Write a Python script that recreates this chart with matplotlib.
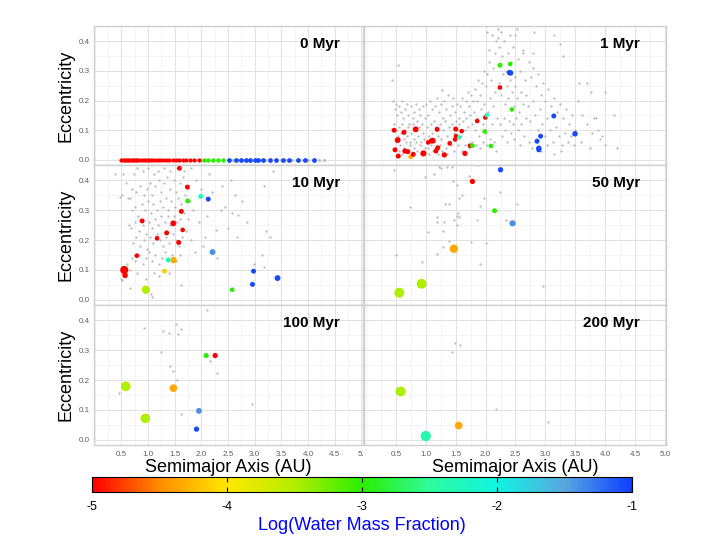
import numpy as np
import matplotlib
matplotlib.use('Agg')
import matplotlib.pyplot as plt
from matplotlib.colors import LinearSegmentedColormap, Normalize
from matplotlib.cm import ScalarMappable
from matplotlib.ticker import MultipleLocator

plt.rcParams['font.family'] = ['Liberation Sans', 'DejaVu Sans']
plt.rcParams['axes.unicode_minus'] = False

# ---------------- data ----------------
panel_titles = ['0 Myr', '1 Myr', '10 Myr', '50 Myr', '100 Myr', '200 Myr']
x_ticks = [0.5, 1.0, 1.5, 2.0, 2.5, 3.0, 3.5, 4.0, 4.5, 5.0]
x_labels_left = ['0.5', '1.0', '1.5', '2.0', '2.5', '3.0', '3.5', '4.0', '4.5', '5.']
x_labels_right = ['0.5', '1.0', '1.5', '2.0', '2.5', '3.0', '3.5', '4.0', '4.5', '5.0']
y_ticks = [0.0, 0.1, 0.2, 0.3, 0.4]
y_labels = ['0.0', '0.1', '0.2', '0.3', '0.4']
cbar_ticks = [-5, -4, -3, -2, -1]
cbar_labels = ['-5', '-4', '-3', '-2', '-1']
cmap_values = [-5.0, -4.5, -4.0, -3.5, -3.0, -2.5, -2.0, -1.5, -1.0]
cmap_colors = ['#FF0000', '#FF8E00', '#FFE800', '#B2EE00', '#2BEE00',
               '#30FA9C', '#10F4E0', '#58A8DE', '#0F3FFF']

# 0 Myr: embryos all on circular orbits
red0_a = [0.50, 0.53, 0.56, 0.59, 0.62, 0.65, 0.68, 0.71, 0.74, 0.77, 0.80, 0.84,
          0.88, 0.92, 0.96, 1.00, 1.04, 1.08, 1.13, 1.18, 1.23, 1.28, 1.34, 1.40,
          1.46, 1.52, 1.58, 1.65, 1.72, 1.79, 1.87, 1.95]
green0_a = [2.05, 2.13, 2.22, 2.31, 2.41]
blue0_a = [2.52, 2.65, 2.74, 2.83, 2.92, 3.00, 3.06, 3.16, 3.29, 3.40, 3.53,
           3.65, 3.81, 3.95, 4.11]
grey0_a = [0.5, 0.6, 0.7, 0.8, 0.9, 1.0, 1.1, 1.2, 1.3, 1.4, 1.5, 1.6, 1.7, 1.8,
           1.9, 2.0, 2.1, 2.2, 2.3, 2.4, 2.5, 2.6, 2.7, 2.8, 2.9, 3.0, 3.1, 3.2,
           3.3, 3.4, 3.5, 3.6, 3.7, 3.8, 3.9, 4.0, 4.1, 4.2, 4.3]
mass0_red, mass0_green, mass0_blue = 0.04, 0.05, 0.065

# embryos: (a [AU], e, log water mass fraction, mass [rough])
emb_1 = [(0.47, 0.100, -5, 0.08), (0.53, 0.067, -5, 0.15), (0.635, 0.093, -5, 0.08),
         (0.83, 0.103, -5, 0.15), (0.485, 0.034, -5, 0.08), (0.54, 0.013, -5, 0.08),
         (0.652, 0.030, -5, 0.10), (0.70, 0.028, -5, 0.08), (0.75, 0.011, -4.35, 0.08),
         (0.79, 0.019, -5, 0.08), (0.96, 0.022, -5, 0.18), (1.19, 0.103, -5, 0.08),
         (1.09, 0.064, -5, 0.08), (1.115, 0.065, -5, 0.15), (1.04, 0.059, -5, 0.06),
         (1.20, 0.041, -5, 0.08), (1.17, 0.030, -5, 0.08), (1.31, 0.017, -5, 0.10),
         (1.40, 0.056, -5, 0.06), (1.50, 0.104, -5, 0.08), (1.60, 0.097, -5, 0.06),
         (1.505, 0.080, -5, 0.06), (1.49, 0.069, -5, 0.06), (1.56, 0.076, -2.3, 0.05),
         (1.655, 0.022, -5, 0.10), (1.74, 0.048, -5, 0.06), (1.78, 0.048, -3.0, 0.06),
         (1.86, 0.131, -5, 0.06), (1.995, 0.143, -5, 0.06), (2.02, 0.151, -2.3, 0.05),
         (1.985, 0.096, -3.0, 0.06), (2.09, 0.047, -3.0, 0.06), (2.24, 0.244, -5, 0.06),
         (2.24, 0.319, -3.0, 0.08), (2.41, 0.323, -3.0, 0.06), (2.40, 0.294, -1.05, 0.12),
         (2.42, 0.293, -1.05, 0.10), (2.44, 0.170, -3.0, 0.06), (3.14, 0.148, -1.05, 0.08),
         (3.495, 0.088, -1.05, 0.12), (2.92, 0.080, -1.05, 0.08), (2.86, 0.063, -1.05, 0.08),
         (2.89, 0.039, -1.05, 0.12), (2.89, 0.034, -1.05, 0.08)]
emb_10 = [(1.59, 0.440, -5, 0.07), (1.74, 0.377, -5, 0.08), (1.99, 0.346, -2.3, 0.08),
          (1.745, 0.331, -3.0, 0.08), (2.13, 0.337, -1.05, 0.08), (1.625, 0.296, -5, 0.08),
          (0.89, 0.264, -5, 0.08), (1.475, 0.256, -5, 0.15), (1.65, 0.234, -5, 0.06),
          (1.35, 0.224, -5, 0.08), (1.17, 0.206, -5, 0.06), (1.575, 0.192, -5, 0.08),
          (0.79, 0.148, -5, 0.06), (2.21, 0.160, -1.4, 0.15), (1.38, 0.134, -2.3, 0.08),
          (1.48, 0.133, -4.35, 0.2), (1.31, 0.096, -4.15, 0.07), (0.57, 0.082, -5, 0.12),
          (0.555, 0.100, -5, 0.5), (0.96, 0.034, -3.5, 0.5), (2.58, 0.034, -3.0, 0.06),
          (2.98, 0.096, -1.05, 0.08), (2.96, 0.052, -1.05, 0.08), (3.43, 0.073, -1.05, 0.15)]
emb_50 = [(2.25, 0.435, -1.05, 0.1), (1.78, 0.396, -5, 0.1), (2.15, 0.298, -3.0, 0.08),
          (2.45, 0.256, -1.4, 0.18), (1.47, 0.171, -4.35, 0.55), (0.93, 0.054, -3.5, 0.95),
          (0.557, 0.024, -3.5, 1.0)]
emb_100 = [(0.583, 0.179, -3.5, 0.85), (0.95, 0.072, -3.5, 0.85), (1.476, 0.173, -4.35, 0.4),
           (2.09, 0.282, -3.0, 0.1), (2.26, 0.282, -5, 0.1), (1.956, 0.097, -1.4, 0.15),
           (1.91, 0.036, -1.05, 0.1)]
emb_200 = [(0.58, 0.162, -3.5, 1.0), (1.00, 0.013, -2.35, 1.1), (1.55, 0.048, -4.35, 0.4)]

# planetesimals (grey): (a [AU], e)
grey_1 = [
    (0.44, 0.27), (0.54, 0.32), (0.46, 0.20), (0.48, 0.17), (0.50, 0.19), (0.52, 0.15),
    (0.55, 0.18), (0.58, 0.16), (0.60, 0.20), (0.62, 0.14), (0.65, 0.17), (0.68, 0.19),
    (0.70, 0.15), (0.72, 0.12), (0.75, 0.18), (0.78, 0.14), (0.80, 0.16), (0.83, 0.19),
    (0.86, 0.13), (0.88, 0.17), (0.90, 0.15), (0.93, 0.12), (0.96, 0.18), (0.98, 0.14),
    (0.47, 0.12), (0.50, 0.10), (0.53, 0.08), (0.56, 0.11), (0.58, 0.09), (0.61, 0.12),
    (0.63, 0.07), (0.66, 0.10), (0.69, 0.08), (0.71, 0.11), (0.74, 0.06), (0.76, 0.09),
    (0.79, 0.12), (0.81, 0.07), (0.84, 0.10), (0.87, 0.08), (0.89, 0.11), (0.92, 0.06),
    (0.95, 0.09), (0.97, 0.07), (0.48, 0.04), (0.51, 0.06), (0.55, 0.03), (0.57, 0.05),
    (0.60, 0.02), (0.64, 0.04), (0.67, 0.06), (0.70, 0.03), (0.73, 0.05), (0.77, 0.02),
    (0.80, 0.04), (0.83, 0.06), (0.86, 0.03), (0.90, 0.05), (0.94, 0.02), (0.99, 0.04),
    (1.01, 0.19), (1.04, 0.15), (1.07, 0.20), (1.10, 0.17), (1.13, 0.13), (1.16, 0.18),
    (1.19, 0.21), (1.22, 0.16), (1.25, 0.19), (1.28, 0.14), (1.31, 0.20), (1.34, 0.17),
    (1.37, 0.22), (1.40, 0.15), (1.43, 0.18), (1.46, 0.21), (1.49, 0.16), (1.52, 0.19),
    (1.55, 0.14), (1.58, 0.18), (1.61, 0.21), (1.64, 0.16), (1.67, 0.20), (1.70, 0.23),
    (1.73, 0.18), (1.76, 0.22), (1.79, 0.20), (1.27, 0.235),
    (1.02, 0.11), (1.05, 0.08), (1.08, 0.12), (1.11, 0.09), (1.14, 0.06), (1.17, 0.11),
    (1.20, 0.08), (1.23, 0.12), (1.26, 0.07), (1.29, 0.10), (1.32, 0.13), (1.35, 0.08),
    (1.38, 0.11), (1.41, 0.06), (1.44, 0.12), (1.47, 0.09), (1.50, 0.13), (1.53, 0.10),
    (1.56, 0.12), (1.59, 0.08), (1.62, 0.13), (1.65, 0.10), (1.68, 0.14), (1.71, 0.11),
    (1.74, 0.15), (1.77, 0.12), (1.80, 0.16),
    (1.03, 0.04), (1.06, 0.02), (1.09, 0.05), (1.12, 0.03), (1.15, 0.04), (1.21, 0.02),
    (1.24, 0.05), (1.27, 0.03), (1.33, 0.04), (1.36, 0.02), (1.42, 0.05), (1.48, 0.03),
    (1.54, 0.05), (1.60, 0.03), (1.66, 0.05), (1.72, 0.04), (1.78, 0.06),
    (1.82, 0.24), (1.85, 0.20), (1.88, 0.27), (1.91, 0.22), (1.94, 0.26), (1.97, 0.30),
    (2.00, 0.25), (2.03, 0.29), (2.06, 0.33), (2.09, 0.27), (2.12, 0.31), (2.15, 0.36),
    (2.18, 0.40), (2.20, 0.44), (2.05, 0.37), (2.10, 0.42), (2.02, 0.43), (2.21, 0.41),
    (1.83, 0.10), (1.86, 0.14), (1.89, 0.08), (1.92, 0.17), (1.95, 0.12), (1.98, 0.19),
    (2.01, 0.09), (2.04, 0.16), (2.07, 0.21), (2.10, 0.12), (2.13, 0.18), (2.16, 0.23),
    (2.19, 0.14), (1.84, 0.05), (1.90, 0.04), (1.96, 0.06), (2.02, 0.05), (2.08, 0.07),
    (2.14, 0.06), (2.18, 0.03),
    (2.22, 0.38), (2.25, 0.43), (2.28, 0.35), (2.31, 0.40), (2.34, 0.30), (2.37, 0.36),
    (2.40, 0.42), (2.43, 0.33), (2.46, 0.38), (2.49, 0.28), (2.52, 0.44), (2.55, 0.34),
    (2.58, 0.30), (2.62, 0.37), (2.66, 0.27), (2.49, 0.42), (2.63, 0.36),
    (2.23, 0.26), (2.26, 0.22), (2.29, 0.29), (2.32, 0.19), (2.35, 0.25), (2.38, 0.21),
    (2.41, 0.27), (2.44, 0.23), (2.47, 0.18), (2.50, 0.25), (2.53, 0.21), (2.56, 0.16),
    (2.59, 0.23), (2.63, 0.19), (2.67, 0.22),
    (2.24, 0.12), (2.27, 0.08), (2.30, 0.14), (2.33, 0.10), (2.36, 0.06), (2.39, 0.13),
    (2.42, 0.09), (2.45, 0.12), (2.48, 0.07), (2.51, 0.14), (2.54, 0.10), (2.57, 0.05),
    (2.60, 0.12), (2.64, 0.08), (2.68, 0.14),
    (2.72, 0.33), (2.76, 0.28), (2.80, 0.31), (2.84, 0.25), (2.88, 0.29), (2.92, 0.22),
    (2.96, 0.26), (3.00, 0.20), (3.05, 0.24), (3.10, 0.18), (3.15, 0.21), (3.20, 0.16),
    (3.25, 0.19), (3.30, 0.14), (3.35, 0.17), (3.40, 0.12), (3.45, 0.15), (3.50, 0.10),
    (2.71, 0.18), (2.75, 0.13), (2.79, 0.20), (2.83, 0.15), (2.87, 0.10), (2.91, 0.17),
    (2.95, 0.12), (2.99, 0.08), (3.03, 0.14), (3.08, 0.10), (3.12, 0.06), (3.18, 0.11),
    (3.22, 0.08), (3.28, 0.05), (3.33, 0.09), (3.38, 0.06), (3.43, 0.08), (3.48, 0.05),
    (2.73, 0.06), (2.78, 0.04), (2.85, 0.07), (2.93, 0.03), (3.02, 0.05), (3.14, 0.02),
    (3.26, 0.03), (3.14, 0.42), (3.24, 0.39), (3.30, 0.35), (2.81, 0.43), (2.80, 0.36),
    (3.56, 0.26), (3.76, 0.23), (3.99, 0.23), (3.81, 0.14), (3.95, 0.08), (4.20, 0.04),
    (3.55, 0.20), (3.62, 0.15), (3.70, 0.12), (3.78, 0.09), (3.85, 0.14), (3.92, 0.07),
    (4.00, 0.05), (3.60, 0.06), (3.75, 0.04), (3.88, 0.10), (4.15, 0.15), (3.70, 0.26)]
grey_10 = [
    (0.38, 0.42), (0.54, 0.42), (0.59, 0.39), (0.73, 0.42), (0.80, 0.44), (0.90, 0.43),
    (1.00, 0.44), (1.11, 0.42), (1.18, 0.43), (1.30, 0.44), (1.42, 0.43), (1.55, 0.44),
    (1.68, 0.43), (1.80, 0.44), (0.48, 0.345), (0.52, 0.35),
    (0.62, 0.34), (0.67, 0.34), (0.70, 0.37), (0.78, 0.36), (0.85, 0.38), (0.92, 0.35),
    (0.98, 0.37), (1.03, 0.39), (1.08, 0.35), (1.14, 0.38), (1.20, 0.40), (1.25, 0.36),
    (1.30, 0.39), (1.36, 0.41), (1.42, 0.37), (1.48, 0.40), (1.53, 0.36), (1.60, 0.39),
    (1.66, 0.41), (0.70, 0.30), (0.76, 0.31), (0.82, 0.28), (0.88, 0.32), (0.94, 0.30),
    (1.00, 0.33), (1.05, 0.29), (1.10, 0.32), (1.16, 0.30), (1.22, 0.33), (1.28, 0.31),
    (1.33, 0.34), (1.38, 0.30), (1.44, 0.33), (1.50, 0.31), (1.56, 0.34), (1.62, 0.32),
    (1.70, 0.35), (1.78, 0.33), (0.64, 0.25), (0.68, 0.24), (0.75, 0.26), (0.83, 0.23),
    (0.90, 0.25), (0.96, 0.22), (1.02, 0.26), (1.07, 0.24), (1.13, 0.27), (1.19, 0.25),
    (1.25, 0.28), (1.31, 0.26), (1.37, 0.28), (1.42, 0.25), (1.48, 0.28), (1.54, 0.26),
    (1.60, 0.27), (1.68, 0.29), (1.75, 0.27), (1.85, 0.30), (0.72, 0.19), (0.78, 0.21),
    (0.85, 0.18), (0.92, 0.20), (0.98, 0.17), (1.04, 0.21), (1.10, 0.19), (1.16, 0.22),
    (1.22, 0.20), (1.28, 0.18), (1.34, 0.21), (1.40, 0.19), (1.46, 0.22), (1.52, 0.20),
    (1.58, 0.18), (1.64, 0.21), (1.72, 0.23), (1.80, 0.20), (0.70, 0.14), (0.76, 0.13),
    (0.84, 0.15), (0.90, 0.12), (0.96, 0.14), (1.02, 0.16), (1.08, 0.13), (1.14, 0.15),
    (1.20, 0.12), (1.26, 0.14), (1.32, 0.16), (1.38, 0.13), (1.45, 0.15), (1.52, 0.13),
    (1.60, 0.15), (0.50, 0.07), (0.59, 0.08), (0.67, 0.04), (0.97, 0.07), (1.11, 0.09),
    (1.06, 0.02), (1.08, 0.01), (1.62, 0.05), (0.60, 0.12), (0.66, 0.10), (0.80, 0.09),
    (1.20, 0.08), (1.40, 0.09), (0.51, 0.067),
    (2.15, 0.42), (2.38, 0.38), (2.63, 0.35), (2.77, 0.33), (2.37, 0.30), (2.45, 0.31),
    (2.58, 0.29), (2.68, 0.285), (2.67, 0.21), (2.27, 0.235), (2.07, 0.21), (2.03, 0.18),
    (2.98, 0.12), (3.13, 0.15), (3.17, 0.11), (3.21, 0.23), (3.29, 0.21), (3.34, 0.43),
    (3.18, 0.38), (1.90, 0.40), (2.00, 0.37), (1.95, 0.26), (2.10, 0.28), (1.88, 0.16),
    (2.20, 0.36), (2.50, 0.24), (2.30, 0.14), (2.85, 0.26), (2.55, 0.40)]
grey_50 = [
    (0.474, 0.435), (0.99, 0.411), (1.14, 0.420), (1.22, 0.445), (1.25, 0.441),
    (1.36, 0.445), (1.44, 0.445), (1.88, 0.450), (1.73, 0.414), (1.46, 0.397),
    (1.52, 0.385), (1.60, 0.352), (1.55, 0.341), (1.97, 0.341), (2.24, 0.361),
    (2.53, 0.322), (1.91, 0.313), (0.73, 0.310), (1.32, 0.319), (1.38, 0.321),
    (1.54, 0.291), (1.53, 0.280), (1.56, 0.278), (1.19, 0.276), (1.19, 0.259),
    (1.30, 0.262), (1.48, 0.266), (1.53, 0.249), (1.85, 0.268), (2.34, 0.268),
    (1.04, 0.227), (1.28, 0.229), (1.39, 0.197), (1.75, 0.195), (2.01, 0.191),
    (1.28, 0.177), (0.50, 0.149), (1.19, 0.155), (0.94, 0.127), (1.90, 0.121),
    (2.96, 0.048)]
grey_100 = [
    (2.10, 0.434), (0.92, 0.373), (1.28, 0.365), (1.39, 0.356), (1.52, 0.387),
    (1.62, 0.371), (1.56, 0.354), (1.24, 0.295), (1.42, 0.246), (1.47, 0.232),
    (1.55, 0.201), (2.16, 0.264), (2.29, 0.225), (0.46, 0.157), (2.96, 0.120),
    (1.62, 0.088)]
grey_200 = [(1.49, 0.324), (1.57, 0.316), (1.43, 0.293), (2.18, 0.104), (3.05, 0.059)]

# ---------------- figure ----------------
W, H = 715, 553
fig = plt.figure(figsize=(W / 100, H / 100), dpi=100)
fig.patch.set_facecolor('white')

cmap = LinearSegmentedColormap.from_list(
    'water', [((v - cmap_values[0]) / (cmap_values[-1] - cmap_values[0]), c)
              for v, c in zip(cmap_values, cmap_colors)])
norm = Normalize(vmin=-5, vmax=-1)


def diam_to_s(d_px):
    return (0.72 * d_px) ** 2


def mass_to_s(m):
    return diam_to_s(1.2 + 8.8 * np.asarray(m) ** (1.0 / 3.0))


# pixel boxes (left, top, right, bottom)
col_x = [(94, 362.5), (364.3, 665.5)]
row_y = [(26, 165), (165, 305), (305, 445)]
col_xlim = [(-0.013, 5.024), (-0.028, 5.008)]


def make_ax(col, row):
    x0, x1 = col_x[col]
    y0, y1 = row_y[row]
    ax = fig.add_axes([x0 / W, 1 - y1 / H, (x1 - x0) / W, (y1 - y0) / H])
    ax.set_xlim(*col_xlim[col])
    ax.set_ylim(-0.017, 0.451)
    ax.set_xticks(x_ticks)
    ax.set_yticks(y_ticks)
    ax.xaxis.set_minor_locator(MultipleLocator(0.25))
    ax.yaxis.set_minor_locator(MultipleLocator(0.05))
    ax.grid(which='major', color='#E2E2E2', lw=0.7)
    ax.grid(which='minor', color='#F0F0F0', lw=0.5)
    ax.set_axisbelow(True)
    for sp in ax.spines.values():
        sp.set_color('#D0D0D0')
        sp.set_linewidth(1.0)
    ax.tick_params(which='both', length=0, labelsize=5.8, labelcolor='#5E5E5E')
    ax.tick_params(axis='y', pad=3)
    ax.tick_params(axis='x', pad=4)
    if col == 0:
        ax.set_yticklabels(y_labels)
        ax.text(-0.104, 0.5, 'Eccentricity', rotation=90, ha='center', va='center',
                fontsize=13, transform=ax.transAxes)
    else:
        ax.set_yticklabels([])
    if row == 2:
        ax.set_xticklabels(x_labels_left if col == 0 else x_labels_right)
    else:
        ax.set_xticklabels([])
    title = panel_titles[row * 2 + col]
    ax.text(0.916 if col == 0 else 0.915, 0.843, title, ha='right', va='baseline',
            fontsize=11, fontweight='bold', transform=ax.transAxes)
    return ax


def draw_grey(ax, pts):
    if pts:
        a, e = zip(*pts)
        ax.scatter(a, e, s=diam_to_s(2.3), c='#BBBBBB', linewidths=0, zorder=2)


def draw_emb(ax, emb):
    emb = sorted(emb, key=lambda t: -t[3])
    a, e, w, m = zip(*emb)
    ax.scatter(a, e, s=mass_to_s(m), c=[cmap(norm(v)) for v in w], linewidths=0, zorder=3)


# 0 Myr
ax = make_ax(0, 0)
ax.scatter(grey0_a, [0.0] * len(grey0_a), s=diam_to_s(3.0), c='#BBBBBB', linewidths=0, zorder=2)
ax.scatter(red0_a, [0.0] * len(red0_a), s=mass_to_s(mass0_red), c=[cmap(norm(-5))],
           linewidths=0, zorder=3)
ax.scatter(green0_a, [0.0] * len(green0_a), s=mass_to_s(mass0_green), c=[cmap(norm(-3))],
           linewidths=0, zorder=3)
ax.scatter(blue0_a, [0.0] * len(blue0_a), s=mass_to_s(mass0_blue), c=[cmap(norm(-1.05))],
           linewidths=0, zorder=3)

# 1 Myr
ax = make_ax(1, 0)
draw_grey(ax, grey_1)
draw_emb(ax, emb_1)

# 10 Myr
ax = make_ax(0, 1)
draw_grey(ax, grey_10)
draw_emb(ax, emb_10)

# 50 Myr
ax = make_ax(1, 1)
draw_grey(ax, grey_50)
draw_emb(ax, emb_50)

# 100 Myr
ax = make_ax(0, 2)
draw_grey(ax, grey_100)
draw_emb(ax, emb_100)

# 200 Myr
ax = make_ax(1, 2)
draw_grey(ax, grey_200)
draw_emb(ax, emb_200)

# x-axis titles
fig.text(228.5 / W, 1 - 468 / H, 'Semimajor Axis (AU)', ha='center', va='center', fontsize=13)
fig.text(515 / W, 1 - 468 / H, 'Semimajor Axis (AU)', ha='center', va='center', fontsize=13)

# colorbar
cax = fig.add_axes([92 / W, 1 - 492.3 / H, 540 / W, 15.6 / H])
cb = fig.colorbar(ScalarMappable(norm=norm, cmap=cmap), cax=cax, orientation='horizontal',
                  ticks=cbar_ticks)
cb.ax.set_xticklabels(cbar_labels)
cb.ax.tick_params(direction='in', length=3.5, width=0.8, color='black', top=True,
                  bottom=True, labelsize=9, pad=6)
cb.outline.set_edgecolor('black')
cb.outline.set_linewidth(0.8)
fig.text(362 / W, 1 - 525 / H, 'Log(Water Mass Fraction)', color='#0000FF',
         ha='center', va='center', fontsize=13)

fig.savefig('out.png', dpi=100, facecolor='white')
